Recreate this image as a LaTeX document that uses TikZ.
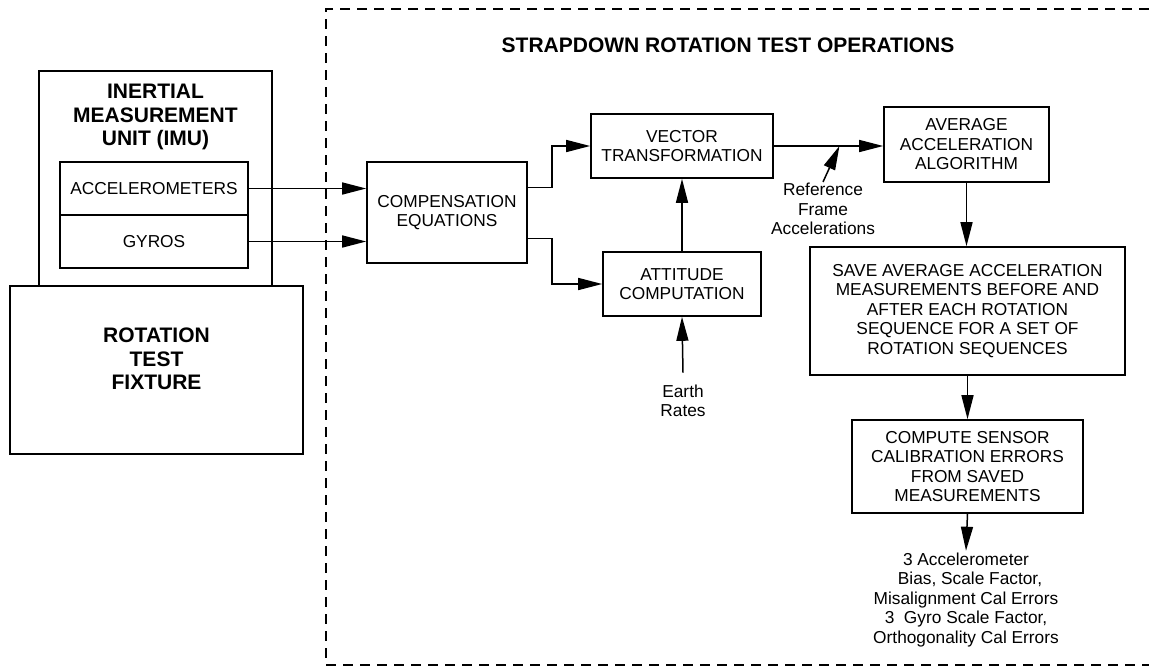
\documentclass[tikz,border=0pt]{standalone}
\usepackage{fontspec}
\setmainfont{Liberation Sans}
\usetikzlibrary{arrows.meta,positioning,calc}

\begin{document}
\begin{tikzpicture}[
  x=1pt, y=-1pt,
  font=\fontsize{17.3}{19.5}\selectfont,
  box/.style={draw, line width=1.6pt, align=center, inner sep=0pt},
  heading/.style={font=\fontsize{21}{23.5}\selectfont\bfseries, align=center},
  lbl/.style={align=center, inner sep=1pt},
  arr/.style={line width=1.5pt, -{Triangle[length=24pt,width=12pt]}},
  frame/.style={line width=1.3pt, dash pattern=on 10pt off 7pt},
]
  \useasboundingbox (0,0) rectangle (1149,670);

  % test operations boundary, open on the right
  \draw[frame] (1149,9) -- (326,9) -- (326,665) -- (1149,665);
  \node[heading] (title) at (728,45) {STRAPDOWN ROTATION TEST OPERATIONS};

  % IMU sitting on the fixture
  \node[box, minimum width=233pt, minimum height=215pt] (imu) at (155.5,178.5) {};
  \node[heading] (imutitle) at (155.5,117) {INERTIAL\\MEASUREMENT\\UNIT (IMU)};
  \node[box, minimum width=188pt, minimum height=53pt] (acc) at (154,188.5) {ACCELEROMETERS};
  \node[box, minimum width=188pt, minimum height=53pt] (gyro) at (154,241.5) {GYROS};
  \node[box, fill=white, minimum width=293pt, minimum height=168pt] (fix) at (156.5,370) {};
  \node[heading] (fixtitle) at (156.5,359) {ROTATION\\TEST\\FIXTURE};

  % processing chain
  \node[box, minimum width=160pt, minimum height=101pt] (comp) at (447,212.5) {COMPENSATION\\EQUATIONS};
  \node[box, minimum width=182pt, minimum height=64pt] (vec) at (682,146) {VECTOR\\TRANSFORMATION};
  \node[box, minimum width=158pt, minimum height=64pt] (att) at (682,284) {ATTITUDE\\COMPUTATION};
  \node[box, minimum width=165pt, minimum height=75pt] (avg) at (966.5,144.5) {AVERAGE\\ACCELERATION\\ALGORITHM};
  \node[box, minimum width=315pt, minimum height=128pt] (save) at (967.5,311)
    {SAVE AVERAGE ACCELERATION\\MEASUREMENTS BEFORE AND\\AFTER EACH ROTATION\\SEQUENCE FOR A SET OF\\ROTATION SEQUENCES};
  \node[box, minimum width=231pt, minimum height=93pt] (cal) at (967.5,466.5)
    {COMPUTE SENSOR\\CALIBRATION ERRORS\\FROM SAVED\\MEASUREMENTS};

  \node[lbl, inner ysep=12pt] (earth) at (683,401) {Earth\\Rates};
  \node[lbl] (refacc) at (823,209) {Reference\\Frame\\Accelerations};
  \node[lbl, inner sep=2pt] (errs) at (966,600)
    {3 Accelerometer\\\hspace*{8pt}Bias, Scale Factor,\\Misalignment Cal Errors\\3\ \ Gyro Scale Factor,\\Orthogonality Cal Errors};

  % signal flow
  \draw[arr] (acc.east) -- (acc.east -| comp.west);
  \draw[arr] (gyro.east) -- (gyro.east -| comp.west);
  \draw[arr] ([yshift=25pt]comp.east) -- ++(24,0) |- (vec.west);
  \draw[arr] ([yshift=-26pt]comp.east) -- ++(24,0) |- (att.west);
  \draw[arr] (att.north) -- (vec.south);
  \draw[arr] (earth.north) -- (att.south);
  \draw[arr] (vec.east) -- coordinate[pos=0.6] (tap) (vec.east -| avg.west);
  \draw[arr] (refacc.north) -- (tap);
  \draw[arr] (avg.south) -- (avg.south |- save.north);
  \draw[arr] (save.south) -- (cal.north);
  \draw[arr] (cal.south) -- (errs.north);
\end{tikzpicture}
\end{document}
